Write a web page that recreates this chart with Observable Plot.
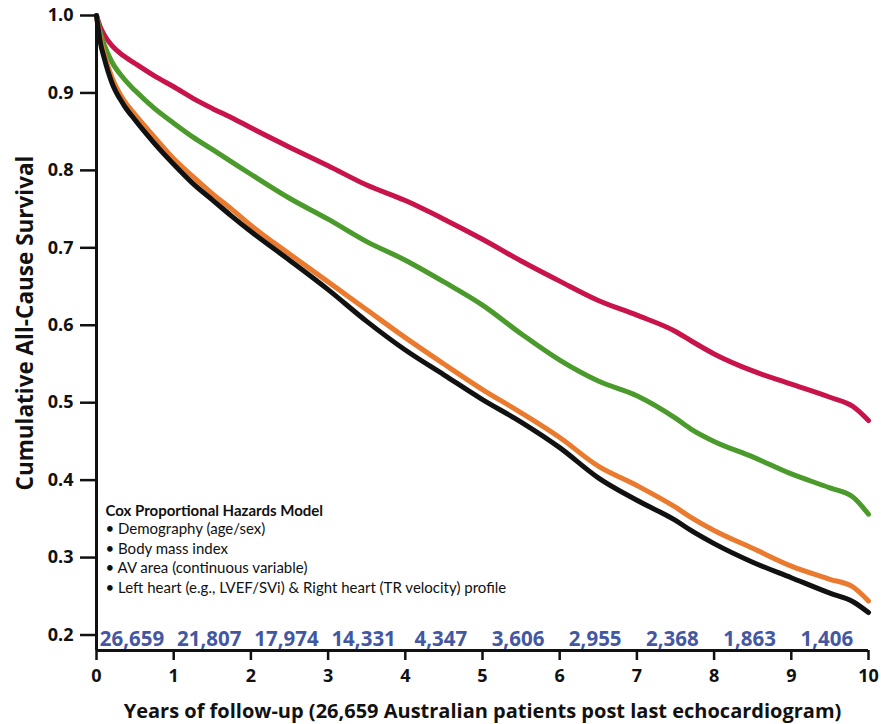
<!DOCTYPE html>
<html>
<head>
<meta charset="utf-8">
<script src="https://cdn.jsdelivr.net/npm/d3@7"></script>
<script src="https://cdn.jsdelivr.net/npm/@observablehq/plot@0.6"></script>
<style>
  html, body { margin: 0; padding: 0; background: #fff; }
  #chart svg { display: block; }
  g[aria-label="y-axis tick label"] text, g[aria-label="x-axis tick label"] text { font-weight: bold; font-family: "Open Sans", sans-serif; }
</style>
</head>
<body>
<div id="chart"></div>
<script>
// ---- data ----
const years = [0, 0.05, 0.1, 0.2, 0.35, 0.5, 0.75, 1, 1.25, 1.5, 1.75, 2, 2.5, 3, 3.5, 4, 4.5, 5, 5.5, 6, 6.5, 7, 7.5, 7.7, 8, 8.5, 9, 9.5, 9.8, 10];
const survivalRed    = [1.0, 0.985, 0.975, 0.961, 0.948, 0.938, 0.922, 0.908, 0.893, 0.880, 0.868, 0.855, 0.830, 0.806, 0.781, 0.761, 0.737, 0.711, 0.683, 0.657, 0.632, 0.613, 0.592, 0.580, 0.563, 0.541, 0.524, 0.507, 0.495, 0.477];
const survivalGreen  = [1.0, 0.978, 0.962, 0.940, 0.919, 0.903, 0.880, 0.861, 0.843, 0.827, 0.811, 0.795, 0.764, 0.737, 0.708, 0.684, 0.656, 0.626, 0.589, 0.555, 0.528, 0.509, 0.480, 0.466, 0.450, 0.430, 0.408, 0.390, 0.378, 0.356];
const survivalOrange = [1.0, 0.970, 0.950, 0.920, 0.891, 0.872, 0.843, 0.815, 0.792, 0.770, 0.750, 0.729, 0.692, 0.656, 0.620, 0.584, 0.550, 0.517, 0.487, 0.455, 0.418, 0.393, 0.365, 0.352, 0.335, 0.312, 0.289, 0.272, 0.262, 0.244];
const survivalBlack  = [1.0, 0.965, 0.945, 0.913, 0.885, 0.865, 0.835, 0.808, 0.783, 0.762, 0.741, 0.721, 0.684, 0.646, 0.605, 0.568, 0.536, 0.504, 0.475, 0.442, 0.403, 0.374, 0.348, 0.335, 0.318, 0.294, 0.274, 0.254, 0.243, 0.229];
const seriesNames = ["Model A", "Model B", "Model C", "Model D"];
const seriesColors = ["#c8144b", "#4a9a2c", "#ea7a2e", "#111111"];
const numberAtRisk = ["26,659", "21,807", "17,974", "14,331", "4,347", "3,606", "2,955", "2,368", "1,863", "1,406"];
const yTicks = [0.2, 0.3, 0.4, 0.5, 0.6, 0.7, 0.8, 0.9, 1.0];
const xTicks = [0, 1, 2, 3, 4, 5, 6, 7, 8, 9, 10];
const legendTitle = "Cox Proportional Hazards Model";
const legendItems = ["• Demography (age/sex)", "• Body mass index", "• AV area (continuous variable)", "• Left heart (e.g., LVEF/SVi) & Right heart (TR velocity) profile"];
const yLabel = "Cumulative All-Cause Survival";
const xLabelParts = ["Years of follow-up (", "26,659 Australian patients", " post last echocardiogram)"];

const blue = "#4357a2";
const allSeries = [survivalRed, survivalGreen, survivalOrange, survivalBlack];
const rows = [];
allSeries.forEach((vals, k) => vals.forEach((v, i) => rows.push({t: years[i], s: v, series: seriesNames[k]})));

const chart = Plot.plot({
  width: 881,
  height: 724,
  marginLeft: 96,
  marginRight: 13,
  marginTop: 15,
  marginBottom: 74,
  style: {fontFamily: "Lato, 'Open Sans', sans-serif", background: "#fff", color: "#111"},
  x: {domain: [0, 10]},
  y: {domain: [0.18, 1.0]},
  color: {domain: seriesNames, range: seriesColors},
  marks: [
    Plot.line(rows, {x: "t", y: "s", z: "series", stroke: "series", strokeWidth: 5, curve: "monotone-x", strokeLinejoin: "round"}),
    Plot.axisY({ticks: yTicks, tickFormat: d => d.toFixed(1), tickSize: 16, tickPadding: 7, fontSize: 18, strokeWidth: 2.5, label: null}),
    Plot.axisX({ticks: xTicks, tickFormat: d => String(d), tickSize: 10, tickPadding: 9, fontSize: 18, strokeWidth: 2.5, label: null}),
    Plot.ruleX([0], {y1: 0.18, y2: 1.0, strokeWidth: 3}),
    Plot.ruleY([0.18], {x1: 0, x2: 10, strokeWidth: 3}),
    Plot.text(numberAtRisk, {x: (d, i) => i + 0.46, text: d => d, frameAnchor: "bottom", lineAnchor: "bottom", dy: -5, fill: blue, fontSize: 20.5, fontWeight: "bold", fontFamily: "'Open Sans', sans-serif"}),
    Plot.text([legendTitle], {frameAnchor: "bottom-left", textAnchor: "start", lineAnchor: "bottom", dx: 9, dy: -135, fontSize: 15, fontWeight: "bold", fill: "#111"}),
    Plot.text([legendItems.join("\n")], {frameAnchor: "bottom-left", textAnchor: "start", lineAnchor: "bottom", dx: 9, dy: -58, fontSize: 15, lineHeight: 1.29, fill: "#111"}),
    Plot.text([yLabel], {frameAnchor: "left", textAnchor: "middle", rotate: -90, dx: -71, dy: -10, fontSize: 22.5, fontWeight: "bold", fill: "#111", fontFamily: "'Open Sans', sans-serif"}),
    Plot.text([xLabelParts.join("")], {frameAnchor: "bottom", lineAnchor: "bottom", dy: 67, fontSize: 20, fontWeight: "bold", fill: "#111", fontFamily: "'Open Sans', sans-serif", ariaLabel: "x-title"})
  ]
});

// colour the middle part of the x-axis title
d3.select(chart).selectAll('g[aria-label="x-title"] text').each(function () {
  const t = d3.select(this);
  t.text(null);
  xLabelParts.forEach((p, i) => t.append("tspan").attr("fill", i === 1 ? blue : "#111").text(p));
});

document.getElementById("chart").appendChild(chart);
</script>
</body>
</html>
